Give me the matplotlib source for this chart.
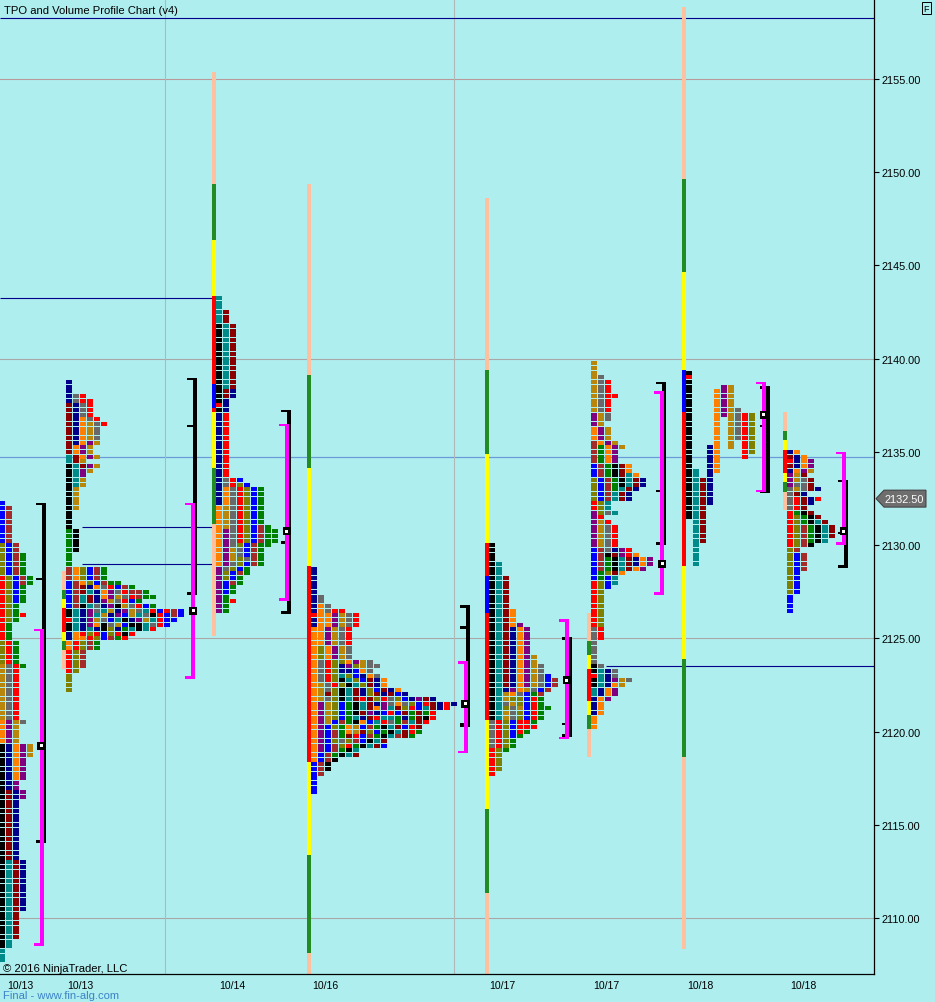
import matplotlib
matplotlib.use("Agg")
import matplotlib.pyplot as plt
from matplotlib.patches import Rectangle, Polygon
from matplotlib.collections import PatchCollection

plt.rcParams['font.family'] = ['Liberation Sans', 'DejaVu Sans']

# ---------------- data ----------------
TICK = 0.25
COLORS = {'K': '#000000', 'B': '#0000FF', 'N': '#00008B', 'R': '#FF0000', 'M': '#8B0000',
          'W': '#A52A2A', 'G': '#008000', 'O': '#808000', 'T': '#008B8B', 'Y': '#B8860B',
          'A': '#FF8000', 'P': '#800080', 'g': '#696969'}
BAR_COLORS = {'pe': '#FFC0A0', 'gr': '#228B22', 'ye': '#FFFF00', 'rd': '#FF0000', 'bl': '#0000FF'}

# TPO profiles: top price + bands of (row count, period letters per row)
p1_top = 2132.25
p1_bands = [(1, "B"), (8, "BW"), (2, "OBW"), (5, "OBWG"), (2, "ROBWG"), (4, "ROBG"), (2, "ROG"),
            (1, "ROGR"), (1, "ROG"), (4, "RG"), (5, "ORG"), (1, "YgRG"), (11, "YgR"), (1, "APYg"),
            (4, "APY"), (3, "KNAPY"), (5, "KNAP"), (2, "KNP"), (2, "KMNP"), (13, "KMN"),
            (11, "KTMN"), (6, "KTM"), (2, "KT"), (3, "T")]

p2_top = 2138.75
p2_bands = [(3, "N"), (1, "NgR"), (1, "NgRR"), (3, "MNgR"), (1, "MNAgR"), (1, "MNAYgR"), (3, "MNAYg"),
            (1, "MNAPY"), (2, "MAPY"), (1, "TMAPY"), (1, "TMY"), (1, "KTMPY"), (1, "KTPY"), (1, "KTP"),
            (2, "KTY"), (5, "KY"), (4, "K"), (5, "GK"), (3, "G"),
            (3, "WAOBWG"), (1, "BWAOBWGG"), (1, "BWMNAgRBWG"), (1, "BWMTNAPgRWWG"),
            (1, "BWTMNAPYgRWGG"), (1, "BWTMNPYgRBG"), (1, "BWKTgNPKYgRBG"),
            (1, "KTNPgTYNPYgTRBRWB"), (1, "KTNPTYNPBYTgKRBWB"), (1, "RTNPYgBTKNPYTRBB"),
            (1, "KTNPAKgYBKKTgRB"), (1, "KTNTNKONGTKTR"), (1, "NARORBORKR"), (1, "NAAROBWGR"),
            (2, "AROWG"), (4, "ROW"), (1, "RO"), (4, "O")]

p3_top = 2143.25
p3_bands = [(3, "T"), (3, "TM"), (14, "KTM"), (2, "KMN"), (1, "KN"), (1, "RN"), (1, "KN"), (14, "NR"),
            (1, "NgRB"), (1, "NgROB"), (4, "NAgROBG"), (4, "AYgROBG"), (1, "AYgROBWG"),
            (3, "APgROBWGG"), (1, "APgOBWGG"), (2, "APYgBWG"), (1, "APYOgWG"), (1, "APgOBWG"),
            (1, "PgOBG"), (1, "POBWG"), (1, "POBG"), (1, "PBWG"), (2, "PBG"), (1, "PG"), (1, "PGR"),
            (2, "PG")]

p4_top = 2128.75
p4_bands = [(6, "N"), (2, "Ng"), (1, "NAg"), (1, "NAgRR"), (1, "RAAPYgR"), (2, "NAAPYgR"), (4, "AAPYgR"),
            (3, "AOAPYg"), (1, "AgROOAPYg"), (1, "AgRONPOYgg"), (1, "AgRONNBAg"), (1, "AgROTOBNAg"),
            (1, "AgROKTOBMNA"), (1, "AYgROKTOMNA"), (1, "AYgOKTMNOBMNA"), (1, "AYMOKTMNOMNMBN"),
            (1, "AYgOKTMRMORgOBNPMN"), (1, "APYOBGKTMNPgAgOBRMNRN"), (1, "APYOBGKTMAPTMORBTMNR"),
            (1, "APYOBGKMPNBRBMGMGR"), (1, "APYOBGTNMRTTGNGMKR"), (1, "APYBWGKABTRgGWTMR"),
            (1, "APBOGAYBWGKTMBRM"), (1, "APBWGAYMOBGKTMRG"), (1, "APBWGMRBWGKTWMG"),
            (1, "APBOgOWBKTM"), (1, "APBWORGKTMB"), (1, "APBWGKT"), (1, "ABWGKTM"), (1, "ABWK"),
            (2, "BWK"), (1, "BW"), (4, "B")]

p5_top = 2130.0
p5_bands = [(4, "K"), (3, "KT"), (7, "KTM"), (3, "KTMA"), (1, "KTMAP"), (6, "KTMNAP"), (2, "KTMNAPY"),
            (2, "KTMNAPYg"), (1, "KTMNAPYgB"), (2, "KTMNAPYgBW"), (1, "KTNPAYgBW"), (1, "KTYAgBGW"),
            (1, "KTYOOBRG"), (1, "KTgYOBRG"), (1, "KTOgYBRGG"), (2, "KTYgOBRG"), (1, "gROBRRG"),
            (1, "gROBRRR"), (1, "gROBRG"), (1, "gROBG"), (2, "gROG"), (1, "ROG"), (4, "RO"), (1, "R")]

p6_top = 2139.75
p6_bands = [(3, "Y"), (1, "Yg"), (3, "YgR"), (1, "YgRR"), (3, "YgR"), (2, "PYg"), (1, "PY"), (3, "APY"),
            (1, "WAPY"), (1, "WGAPY"), (3, "WGAP"), (2, "BWGKMA"), (1, "BWGKMTA"), (2, "OBWGKTMN"),
            (1, "OBWGTMN"), (2, "OBWTMN"), (2, "ROT"), (1, "POgT"), (1, "PR"), (1, "PYR"), (5, "PYgR"),
            (1, "BWgNPR"), (1, "BWKMPRA"), (2, "BWGKTMNAP"), (1, "BWGKTMAP"), (1, "BGOMA"),
            (1, "BGBT"), (1, "ROBT"), (1, "ROB"), (8, "RO"), (3, "gR"), (5, "g"), (1, "Kg"),
            (1, "KTNg"), (1, "RTNg"), (1, "KTNPYg"), (1, "KTNAY"), (2, "TNAP"), (1, "NAP"),
            (3, "NA"), (3, "A")]

# split (uncollapsed) profile: (column, period letter, high, low)
p7_periods = [(0, 'K', 2139.25, 2131.5), (0, 'R', 2139.0, 2139.0), (1, 'T', 2134.0, 2129.0),
              (2, 'M', 2133.5, 2130.25), (3, 'N', 2135.25, 2132.25), (4, 'A', 2138.25, 2134.0),
              (5, 'P', 2138.5, 2137.0), (6, 'Y', 2138.5, 2135.25), (7, 'g', 2137.25, 2135.75),
              (8, 'R', 2137.0, 2134.75), (9, 'O', 2137.0, 2135.0), (9, 'R', 2136.25, 2136.25)]

p8_top = 2135.0
p8_bands = [(1, "NA"), (1, "MNA"), (1, "RNAP"), (1, "MNAP"), (1, "NAPY"), (1, "PYM"), (1, "PYgM"),
            (1, "PggM"), (1, "gYgMN"), (1, "gMN"), (1, "gRMNR"), (1, "gRMN"), (1, "gRM"), (1, "RGKM"),
            (1, "ROGKM"), (1, "ROGKTM"), (3, "ROWGKTM"), (1, "ROWGKT"), (1, "ROWK"), (1, "OW"),
            (4, "OBW"), (5, "OB"), (4, "B")]

# range-extension bars: price edges (top -> bottom) and segment colours
bar_edges = [
    [2128.625, 2127.625, 2127.125, 2126.625, 2125.375, 2124.875, 2124.375, 2123.375],
    [2155.375, 2149.375, 2146.375, 2143.375, 2138.625, 2137.375, 2137.125, 2134.125, 2131.125, 2125.125],
    [2149.375, 2139.125, 2134.125, 2128.875, 2118.375, 2113.375, 2108.125, 2106.0],
    [2148.625, 2139.375, 2134.875, 2130.125, 2128.375, 2126.375, 2120.625, 2115.875, 2111.375, 2106.0],
    [2126.375, 2124.875, 2124.125, 2123.375, 2121.625, 2120.875, 2120.125, 2118.625],
    [2158.875, 2149.625, 2144.625, 2139.375, 2137.125, 2128.875, 2123.875, 2118.625, 2108.375],
    [2137.125, 2136.125, 2135.625, 2135.125, 2133.875, 2133.375, 2132.875, 2131.875],
]
bar_colors = [
    ['pe', 'gr', 'ye', 'rd', 'ye', 'gr', 'pe'],
    ['pe', 'gr', 'ye', 'rd', 'bl', 'rd', 'ye', 'gr', 'pe'],
    ['pe', 'gr', 'ye', 'rd', 'ye', 'gr', 'pe'],
    ['pe', 'gr', 'ye', 'rd', 'bl', 'rd', 'ye', 'gr', 'pe'],
    ['pe', 'gr', 'ye', 'rd', 'ye', 'gr', 'pe'],
    ['pe', 'gr', 'ye', 'bl', 'rd', 'ye', 'gr', 'pe'],
    ['pe', 'gr', 'ye', 'rd', 'ye', 'gr', 'pe'],
]

# value areas
black_va = [(2132.2, 2114.1, [2128.2]), (2138.9, 2127.4, [2136.4]), (2137.2, 2126.4, [2130.15]),
            (2126.7, 2120.3, [2125.6, 2120.4]), (2125.0, 2119.8, [2120.4]), (2138.7, 2130.1, [2132.9]),
            (2138.45, 2132.85, [2136.4]), (2133.45, 2128.85, [2130.65])]
magenta_va = [(2125.45, 2108.6), (2132.2, 2122.9), (2136.45, 2127.1), (2123.7, 2118.9),
              (2125.95, 2119.65), (2138.2, 2127.4), (2138.7, 2132.9), (2134.95, 2130.1)]
poc = [2119.25, 2126.5, 2130.75, 2121.5, 2122.75, 2129.0, 2137.0, 2130.75]

navy_levels = [2158.25, 2143.25, 2131.0, 2129.0, 2123.5]
gray_levels = [2110, 2125, 2140]
blue_level = 2134.75
red_level = 2155
price_ticks = [2110, 2115, 2120, 2125, 2130, 2135, 2140, 2145, 2150, 2155]
last_price = 2132.50
session_labels = ["10/13", "10/13", "10/14", "10/16", "10/17", "10/17", "10/18", "10/18"]

# ---------------- layout (pixels) ----------------
W, H, DPI = 935, 1003, 100
PX_PER_PT = 18.65
AX_W, AX_H = 874, 975
Y_TOP = 2155 + 80 / PX_PER_PT
Y_BOT = Y_TOP - AX_H / PX_PER_PT
profile_x = [-1, 66, 216, 311, 489, 591, 686, 787]
bar_x = [62, 212, 307, 485, 587, 682, 783]
black_x = [42, 193, 287, 466, 568, 662, 766, 844]
magenta_x = [40, 191, 285, 464, 565, 660, 762, 842]
poc_x = [41, 193, 286.5, 465, 566.5, 662, 763.5, 843.5]
navy_span = [(0, 874), (0, 213), (82, 215), (82, 215), (606, 874)]
session_label_x = [20, 80, 232, 325, 502, 606, 700, 803]
sep_x = [165, 454]
BG = '#AFEEEE'
PITCH, BOX_W = 7, 6
BOX_H = 4.0 / PX_PER_PT
PX = 1.0 / PX_PER_PT

fig = plt.figure(figsize=(W / DPI, H / DPI), dpi=DPI)
fig.patch.set_facecolor(BG)
ax = fig.add_axes([0, (H - AX_H) / H, AX_W / W, AX_H / H])
ax.set_facecolor(BG)
ax.set_xlim(0, AX_W)
ax.set_ylim(Y_BOT, Y_TOP)


def expand(bands):
    rows = []
    for n, s in bands:
        rows += [s] * n
    return rows


rects = {c: [] for c in COLORS}
profiles = [(p1_top, p1_bands), (p2_top, p2_bands), (p3_top, p3_bands), (p4_top, p4_bands),
            (p5_top, p5_bands), (p6_top, p6_bands), None, (p8_top, p8_bands)]
for idx, prof in enumerate(profiles):
    x0 = profile_x[idx]
    if prof is None:
        for col, c, hi, lo in p7_periods:
            n = int(round((hi - lo) / TICK)) + 1
            for i in range(n):
                p = hi - i * TICK
                rects[c].append(Rectangle((x0 + col * PITCH, p - BOX_H / 2), BOX_W, BOX_H))
        continue
    top, bands = prof
    for i, s in enumerate(expand(bands)):
        p = top - i * TICK
        for k, c in enumerate(s):
            if c == ' ':
                continue
            rects[c].append(Rectangle((x0 + k * PITCH, p - BOX_H / 2), BOX_W, BOX_H))

# reference lines (under the boxes)
for lv in gray_levels:
    ax.axhline(lv, color='#A8A8A8', lw=0.8, zorder=1)
ax.axhline(red_level, color='#B89898', lw=0.8, zorder=1)
ax.axhline(blue_level, color='#6A9AD8', lw=0.9, zorder=1)
for sx in sep_x:
    ax.axvline(sx, color='#B0B8B8', lw=0.8, zorder=1)
for lv, (a, b) in zip(navy_levels, navy_span):
    ax.hlines(lv, a, b, color='#00008B', lw=0.8, zorder=1)

for c, lst in rects.items():
    if lst:
        ax.add_collection(PatchCollection(lst, facecolor=COLORS[c], edgecolor='none',
                                          antialiased=False, zorder=3))

# range bars
for bx, edges, cols in zip(bar_x, bar_edges, bar_colors):
    for (hi, lo), cc in zip(zip(edges[:-1], edges[1:]), cols):
        ax.add_patch(Rectangle((bx, lo), 4, hi - lo, facecolor=BAR_COLORS[cc], edgecolor='none',
                               antialiased=False, zorder=2))

# value-area brackets
for bx, (hi, lo, ticks) in zip(black_x, black_va):
    ax.add_patch(Rectangle((bx, lo), 4, hi - lo, fc='black', ec='none', antialiased=False, zorder=4))
    for t in [hi, lo] + ticks:
        ax.add_patch(Rectangle((bx - 6, t - 1.2 * PX), 10, 2.5 * PX, fc='black', ec='none',
                               antialiased=False, zorder=4))
for mx, (hi, lo) in zip(magenta_x, magenta_va):
    ax.add_patch(Rectangle((mx, lo), 4, hi - lo, fc='#FF00FF', ec='none', antialiased=False, zorder=5))
    for t in [hi, lo]:
        ax.add_patch(Rectangle((mx - 6, t - 1.2 * PX), 10, 2.5 * PX, fc='#FF00FF', ec='none',
                               antialiased=False, zorder=5))
for px_, pv in zip(poc_x, poc):
    ax.add_patch(Rectangle((px_ - 4, pv - 4 * PX), 8, 8 * PX, fc='black', ec='none',
                           antialiased=False, zorder=6))
    ax.add_patch(Rectangle((px_ - 1.5, pv - 1.5 * PX), 3, 3 * PX, fc='white', ec='none',
                           antialiased=False, zorder=7))

# axes styling
for s in ['top', 'left']:
    ax.spines[s].set_visible(False)
ax.spines['right'].set_color('black')
ax.spines['bottom'].set_color('black')
ax.spines['right'].set_linewidth(0.9)
ax.spines['bottom'].set_linewidth(0.9)
ax.yaxis.tick_right()
ax.set_yticks(price_ticks)
ax.set_yticklabels([f"{v:.2f}" for v in price_ticks])
ax.tick_params(axis='y', length=3.6, width=0.8, colors='black', labelsize=7.8, pad=1.5)
ax.set_xticks(session_label_x)
ax.set_xticklabels(session_labels)
ax.tick_params(axis='x', length=0, labelsize=7.6, pad=4, colors='black')

# last price tag
tr = ax.get_yaxis_transform()
hh = 8.5 * PX
tag = Polygon([(876 / AX_W, last_price), (884 / AX_W, last_price + hh), (926 / AX_W, last_price + hh),
               (926 / AX_W, last_price - hh), (884 / AX_W, last_price - hh)], closed=True,
              transform=tr, fc='#6E6E6E', ec='#3C3C3C', lw=0.7, clip_on=False, zorder=10)
ax.add_patch(tag)
ax.text(904.5 / AX_W, last_price, f"{last_price:.2f}", transform=tr, color='white', fontsize=7.9,
        ha='center', va='center', clip_on=False, zorder=11)

# texts
fig.text(4 / W, 1 - 11 / H, "TPO and Volume Profile Chart (v4)", fontsize=8.1, ha='left', va='center')
fig.text(3 / W, 1 - 969 / H, "© 2016 NinjaTrader, LLC", fontsize=8.1, ha='left', va='center')
fig.text(3 / W, 1 - 996 / H, "Final - www.fin-alg.com", fontsize=8.1, ha='left', va='center',
         color='#3C82C8')
fig.text(926.5 / W, 1 - 9 / H, "F", fontsize=6.5, ha='center', va='center',
         bbox=dict(boxstyle='square,pad=0.18', fc=BG, ec='black', lw=0.7))

fig.savefig("out.png", dpi=DPI, facecolor=BG)
